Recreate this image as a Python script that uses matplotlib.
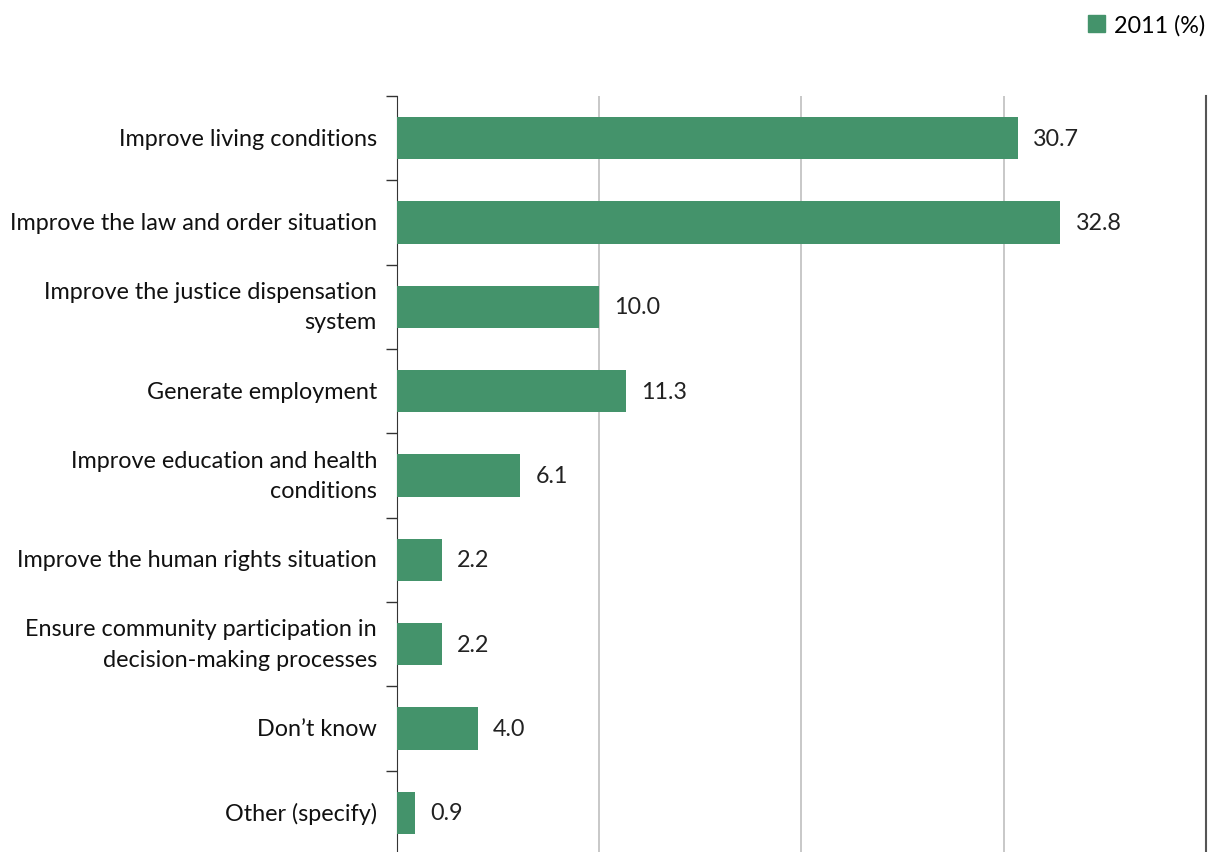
import matplotlib.pyplot as plt
from matplotlib.patches import Patch

# survey categories, top to bottom
categories = [
    'Improve living conditions',
    'Improve the law and order situation',
    'Improve the justice dispensation\nsystem',
    'Generate employment',
    'Improve education and health\nconditions',
    'Improve the human rights situation',
    'Ensure community participation in\ndecision-making processes',
    'Don\u2019t know',
    'Other (specify)',
]
values_2011 = [30.7, 32.8, 10.0, 11.3, 6.1, 2.2, 2.2, 4.0, 0.9]
series_name = '2011 (%)'

plt.rcParams['font.family'] = ['Lato', 'DejaVu Sans']
bar_color = '#44936B'
fs = 16.8

fig = plt.figure(figsize=(12.12, 8.53), dpi=100)
ax = fig.add_axes([0.3276, -0.0035, 0.995 - 0.3276, 0.8898])

pos = list(range(len(categories)))
ax.barh(pos, values_2011, height=0.5, color=bar_color, zorder=3)
for p, v in zip(pos, values_2011):
    ax.annotate(f'{v:.1f}', (v, p), xytext=(11, 0), textcoords='offset points',
                va='center', ha='left', fontsize=fs, color='#222222')

ax.set_xlim(0, 40)
ax.set_ylim(len(categories) - 0.5, -0.5)
ax.set_xticks([10, 20, 30, 40])
ax.xaxis.grid(True, color='#BFBFBF', linewidth=1.2, zorder=0)
ax.tick_params(axis='x', length=0, labelbottom=False)

# category labels sit between the tick marks
ax.set_yticks(pos)
ax.set_yticklabels(categories, fontsize=fs, ha='right', va='center',
                   linespacing=1.55, color='#111111')
ax.set_yticks([p - 0.5 for p in pos] + [len(pos) - 0.5], minor=True)
ax.tick_params(axis='y', which='major', length=0, pad=14.5)
ax.tick_params(axis='y', which='minor', length=8, width=1, color='#333333')

for s in ['top', 'bottom']:
    ax.spines[s].set_visible(False)
ax.spines['left'].set_color('#333333')
ax.spines['right'].set_color('#555555')
ax.spines['right'].set_linewidth(1.5)

fig.legend(handles=[Patch(color=bar_color, label=series_name)],
           loc='upper right', bbox_to_anchor=(1.012, 1.007), frameon=False,
           fontsize=fs, handlelength=0.75, handleheight=0.75, handletextpad=0.4)

fig.savefig('out.png', dpi=100)
